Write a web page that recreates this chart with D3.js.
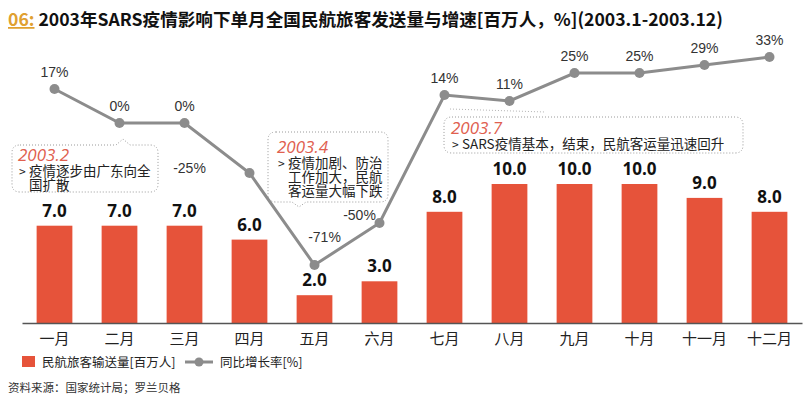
<!DOCTYPE html>
<html>
<head>
<meta charset="utf-8">
<script src="https://cdn.jsdelivr.net/npm/d3@7/dist/d3.min.js"></script>
<style>
  body { margin: 0; background: #fff; }
  svg { display: block; font-family: "Noto Sans CJK SC", "Liberation Sans", sans-serif; }
</style>
</head>
<body>
<div id="chart"></div>
<script>
// datos
const months = ['一月', '二月', '三月', '四月', '五月', '六月', '七月', '八月', '九月', '十月', '十一月', '十二月'];
const passengers = [7.0, 7.0, 7.0, 6.0, 2.0, 3.0, 8.0, 10.0, 10.0, 10.0, 9.0, 8.0];
const growth = [17, 0, 0, -25, -71, -50, 14, 11, 25, 25, 29, 33];

const titleNo = '06:';
const titleText = '2003年SARS疫情影响下单月全国民航旅客发送量与增速[百万人，%](2003.1-2003.12)';
const legendBar = '民航旅客输送量[百万人]';
const legendLine = '同比增长率[%]';
const source = '资料来源：国家统计局；罗兰贝格';

const notes = [
  { year: '2003.2', lines: ['疫情逐步由广东向全', '国扩散'] },
  { year: '2003.4', lines: ['疫情加剧、防治', '工作加大，民航', '客运量大幅下跌'] },
  { year: '2003.7', lines: ['SARS疫情基本，结束，民航客运量迅速回升'] }
];

const width = 807, height = 399;
const barColor = '#E6533A';
const lineColor = '#8C8C8C';

const svg = d3.select('#chart').append('svg')
  .attr('width', width)
  .attr('height', height);

// titulo
const title = svg.append('text')
  .attr('x', 8).attr('y', 26)
  .style('font-size', '17.6px').style('font-weight', 700);
title.append('tspan').text(titleNo).attr('fill', '#E0A030').style('text-decoration', 'underline');
title.append('tspan').text(' ' + titleText).attr('fill', '#111');

// escalas
const x = d3.scaleBand().domain(months).range([22, 802]).padding(0);
const yBar = d3.scaleLinear().domain([0, 10]).range([323, 184]);
const yLine = d3.scaleLinear().domain([0, 33]).range([123, 57]);
const barW = x.bandwidth() * 0.55;

// barras
svg.selectAll('rect.bar')
  .data(passengers)
  .enter()
  .append('rect')
  .attr('class', 'bar')
  .attr('x', (d, i) => x(months[i]) + (x.bandwidth() - barW) / 2)
  .attr('y', d => yBar(d))
  .attr('width', barW)
  .attr('height', d => yBar(0) - yBar(d))
  .attr('fill', barColor);

svg.selectAll('text.barlabel')
  .data(passengers)
  .enter()
  .append('text')
  .attr('class', 'barlabel')
  .attr('x', (d, i) => x(months[i]) + x.bandwidth() / 2)
  .attr('y', d => yBar(d) - 9)
  .attr('text-anchor', 'middle')
  .style('font-family', '"Open Sans", "Noto Sans", sans-serif')
  .style('font-size', '17px').style('font-weight', 700)
  .attr('fill', '#111')
  .text(d => d.toFixed(1));

// eje x
svg.append('g')
  .attr('transform', 'translate(0,' + yBar(0) + ')')
  .call(d3.axisBottom(x).tickSize(0).tickPadding(10))
  .call(g => g.select('.domain').attr('stroke', '#555').attr('stroke-width', 1.5))
  .selectAll('text')
  .style('font-family', '"Noto Sans CJK SC", sans-serif')
  .style('font-size', '15px')
  .attr('fill', '#222');

// cajas de notas
function noteBox(path) {
  svg.append('path')
    .attr('d', path)
    .attr('fill', '#fff')
    .attr('stroke', '#9a9a9a')
    .attr('stroke-width', 1)
    .attr('stroke-dasharray', '1,2');
}

// un solo <text> por nota, con tspans
function noteText(n, tx, ty) {
  const t = svg.append('text').attr('x', tx).attr('y', ty);
  t.append('tspan')
    .attr('x', tx).attr('y', ty)
    .style('font-family', '"Open Sans", sans-serif')
    .style('font-style', 'italic')
    .style('font-size', '17px')
    .attr('fill', '#E0604F')
    .text(n.year);
  t.append('tspan')
    .attr('x', tx + 1).attr('y', ty + 15)
    .style('font-size', '12px').attr('fill', '#222')
    .text('>');
  n.lines.forEach((l, k) => {
    t.append('tspan')
      .attr('x', tx + 11).attr('y', ty + 15 + k * 14)
      .style('font-size', '13.5px').attr('fill', '#222')
      .text(l);
  });
}

// 2003.2 (pico arriba)
noteBox('M20,145 L116,145 L123,139 L130,145 L150,145 Q158,145 158,153 L158,184 Q158,192 150,192 L20,192 Q12,192 12,184 L12,153 Q12,145 20,145 Z');
noteText(notes[0], 18, 161);

// 2003.4 (pico abajo)
noteBox('M276,132 L380,132 Q388,132 388,140 L388,194 Q388,202 380,202 L306,202 L299,207 L292,202 L276,202 Q268,202 268,194 L268,140 Q268,132 276,132 Z');
noteText(notes[1], 277, 153);

// 2003.7
svg.append('line')
  .attr('x1', 450).attr('y1', 109).attr('x2', 545).attr('y2', 112)
  .attr('stroke', '#b5b5b5').attr('stroke-dasharray', '1,2');
noteBox('M452,117 L735,117 Q743,117 743,125 L743,145 Q743,153 735,153 L452,153 Q444,153 444,145 L444,125 Q444,117 452,117 Z');
noteText(notes[2], 451, 134);

// linea de crecimiento
const cx = (d, i) => x(months[i]) + x.bandwidth() / 2;
const line = d3.line()
  .x((d, i) => cx(d, i))
  .y(d => yLine(d));

svg.append('path')
  .datum(growth)
  .attr('d', line)
  .attr('fill', 'none')
  .attr('stroke', lineColor)
  .attr('stroke-width', 3);

svg.selectAll('circle.pt')
  .data(growth)
  .enter()
  .append('circle')
  .attr('class', 'pt')
  .attr('cx', (d, i) => cx(d, i))
  .attr('cy', d => yLine(d))
  .attr('r', 5)
  .attr('fill', lineColor);

// desplazamiento de algunas etiquetas
const labelShift = { 3: [-60, 0], 4: [10, -23], 5: [-20, -3] };
svg.selectAll('text.pct')
  .data(growth)
  .enter()
  .append('text')
  .attr('class', 'pct')
  .attr('x', (d, i) => cx(d, i) + (labelShift[i] ? labelShift[i][0] : 0))
  .attr('y', (d, i) => yLine(d) + (labelShift[i] ? labelShift[i][1] : -12))
  .attr('text-anchor', 'middle')
  .style('font-family', '"Liberation Sans", sans-serif')
  .style('font-size', '14px')
  .attr('fill', '#333')
  .text(d => d + '%');

// leyenda
svg.append('rect').attr('x', 22).attr('y', 356).attr('width', 13).attr('height', 11).attr('fill', barColor);
svg.append('text').attr('x', 42).attr('y', 367).style('font-size', '12.5px').attr('fill', '#222').text(legendBar);
svg.append('line').attr('x1', 185).attr('x2', 213).attr('y1', 362).attr('y2', 362)
  .attr('stroke', lineColor).attr('stroke-width', 3);
svg.append('circle').attr('cx', 199).attr('cy', 362).attr('r', 4.5).attr('fill', lineColor);
svg.append('text').attr('x', 220).attr('y', 367).style('font-size', '12.5px').attr('fill', '#222').text(legendLine);

// fuente
svg.append('text').attr('x', 8).attr('y', 392).style('font-size', '11.5px').attr('fill', '#333').text(source);
</script>
</body>
</html>
